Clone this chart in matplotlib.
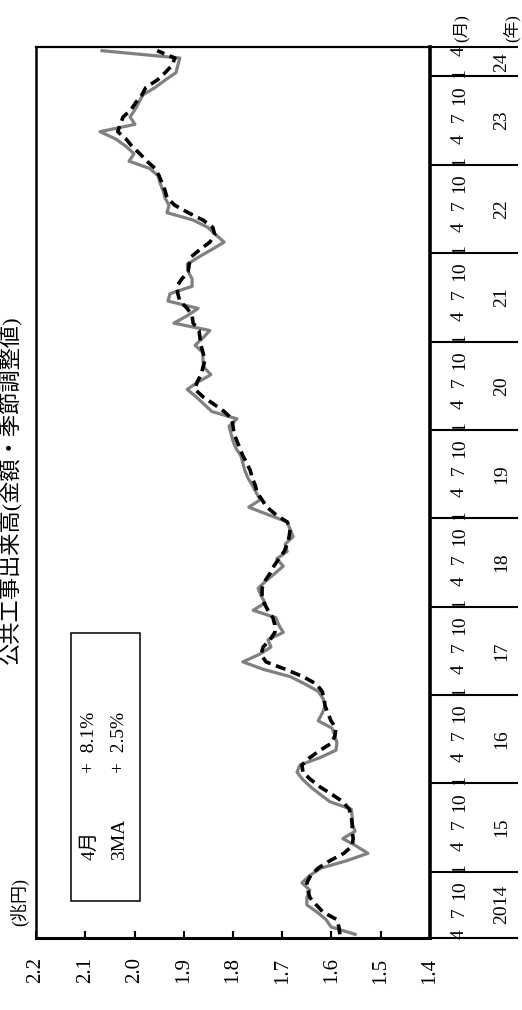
"""Public works output (value, seasonally adjusted), drawn rotated 90 degrees like the source page."""

import matplotlib

matplotlib.use("Agg")
import matplotlib.pyplot as plt
from matplotlib.patches import Rectangle

plt.rcParams["font.family"] = ["Liberation Serif", "Noto Sans CJK JP"]

# monthly series from 2014/4 to 2024/4 (trillion yen)
START_MONTH = 4
MONTHLY = [
    1.552, 1.601, 1.611, 1.629, 1.650, 1.650, 1.644, 1.660, 1.644, 1.621,
    1.569, 1.526, 1.550, 1.577, 1.552, 1.558, 1.558, 1.560, 1.603, 1.623,
    1.642, 1.658, 1.670, 1.664, 1.623, 1.591, 1.589, 1.593, 1.599, 1.627,
    1.619, 1.613, 1.617, 1.627, 1.654, 1.684, 1.739, 1.780, 1.747, 1.723,
    1.729, 1.698, 1.707, 1.713, 1.759, 1.735, 1.743, 1.749, 1.733, 1.715,
    1.698, 1.711, 1.690, 1.694, 1.678, 1.684, 1.690, 1.729, 1.768, 1.745,
    1.753, 1.761, 1.770, 1.776, 1.780, 1.784, 1.794, 1.800, 1.804, 1.808,
    1.792, 1.843, 1.859, 1.875, 1.893, 1.871, 1.845, 1.859, 1.861, 1.861,
    1.877, 1.861, 1.847, 1.920, 1.893, 1.871, 1.932, 1.928, 1.883, 1.883,
    1.891, 1.893, 1.869, 1.843, 1.818, 1.835, 1.851, 1.881, 1.934, 1.930,
    1.938, 1.942, 1.948, 1.952, 1.969, 2.011, 2.001, 2.017, 2.038, 2.070,
    1.999, 2.009, 1.999, 1.991, 1.983, 1.958, 1.938, 1.916, 1.912, 1.908,
    2.066,
]
MA3 = [
    1.583, 1.585, 1.589, 1.617, 1.631, 1.644, 1.648, 1.650, 1.642, 1.627,
    1.603, 1.575, 1.558, 1.556, 1.558, 1.558, 1.560, 1.564, 1.577, 1.599,
    1.623, 1.642, 1.658, 1.660, 1.644, 1.623, 1.599, 1.593, 1.591, 1.601,
    1.607, 1.613, 1.615, 1.619, 1.631, 1.658, 1.694, 1.733, 1.743, 1.739,
    1.725, 1.715, 1.715, 1.719, 1.729, 1.737, 1.741, 1.741, 1.735, 1.725,
    1.717, 1.707, 1.696, 1.690, 1.686, 1.684, 1.690, 1.713, 1.731, 1.741,
    1.751, 1.755, 1.761, 1.765, 1.772, 1.780, 1.786, 1.792, 1.798, 1.800,
    1.802, 1.818, 1.839, 1.861, 1.877, 1.873, 1.865, 1.861, 1.857, 1.861,
    1.865, 1.867, 1.869, 1.881, 1.883, 1.893, 1.908, 1.912, 1.914, 1.904,
    1.891, 1.889, 1.885, 1.867, 1.847, 1.837, 1.841, 1.861, 1.891, 1.918,
    1.934, 1.938, 1.944, 1.950, 1.958, 1.975, 1.989, 2.005, 2.017, 2.034,
    2.029, 2.023, 2.007, 1.997, 1.985, 1.977, 1.954, 1.938, 1.924, 1.918,
    1.954,
]
VAL_TICKS = [2.2, 2.1, 2.0, 1.9, 1.8, 1.7, 1.6, 1.5, 1.4]
VAL_LABELS = ["2.2", "2.1", "2.0", "1.9", "1.8", "1.7", "1.6", "1.5", "1.4"]
YEAR_LABELS = ["2014", "15", "16", "17", "18", "19", "20", "21", "22", "23", "24"]
LEGEND_ROWS = [("4月", "+  8.1%"), ("3MA", "+  2.5%")]
TITLE = "公共工事出来高(金額・季節調整値)"

n = len(MONTHLY)
idx = list(range(n))
months = [(START_MONTH - 1 + i) % 12 + 1 for i in idx]

fig = plt.figure(figsize=(5.22, 10.10), dpi=100)
ax = fig.add_axes([36 / 522, 72 / 1010, 394 / 522, 891 / 1010])

ax.plot(MONTHLY, idx, color="#808080", lw=2.3, zorder=2)
ax.plot(MA3, idx, color="black", lw=2.6, dashes=(2.8, 1.6), zorder=3)
ax.set_xlim(2.2, 1.4)
ax.set_ylim(-0.5, n - 0.5)

for side, lw in [("left", 1.8), ("bottom", 2.2), ("right", 2.6), ("top", 1.6)]:
    ax.spines[side].set_linewidth(lw)

ax.set_xticks(VAL_TICKS)
ax.set_xticklabels(VAL_LABELS, rotation=90)
ax.tick_params(axis="x", direction="in", length=5, width=1.5, pad=14, labelsize=15)

# month labels (1, 4, 7, 10) on the right, year separators as long outward ticks
mpos = [i for i in idx if months[i] in (1, 4, 7, 10)]
ax.set_yticks(mpos)
ax.set_yticklabels([str(months[i]) for i in mpos], rotation=90, va="center")
ax.tick_params(axis="y", which="major", left=False, right=True, labelleft=False,
               labelright=True, length=0, pad=15, labelsize=14)
seps = [-0.5] + [i - 0.5 for i in idx if months[i] == 1] + [n - 0.5]
ax.set_yticks(seps, minor=True)
ax.tick_params(axis="y", which="minor", left=False, right=True, direction="out",
               length=63, width=1.5)

# year labels centred in each year block
for k, lab in enumerate(YEAR_LABELS):
    lo, hi = seps[k], seps[k + 1]
    ax.text(1.183, (lo + hi) / 2, lab, transform=ax.get_yaxis_transform(), rotation=90,
            ha="center", va="center", fontsize=14, clip_on=False)

# legend box with text only
ax.add_patch(Rectangle((0.0888, 0.0415), 0.175, 0.301, transform=ax.transAxes,
                       fill=False, edgecolor="black", lw=1.1, zorder=4))
for k, (name, val) in enumerate(LEGEND_ROWS):
    xk = 0.137 + k * 0.076
    ax.text(xk, 0.0875, name, transform=ax.transAxes, rotation=90, rotation_mode="anchor",
            ha="left", va="center", fontsize=14)
    ax.text(xk, 0.185, val, transform=ax.transAxes, rotation=90, rotation_mode="anchor",
            ha="left", va="center", fontsize=14)

fig.text(461 / 522, 1 - 28 / 1010, "(月)", rotation=90, ha="center", va="center", fontsize=12)
fig.text(512 / 522, 1 - 28 / 1010, "(年)", rotation=90, ha="center", va="center", fontsize=12)
fig.text(20 / 522, 1 - 902 / 1010, "(兆円)", rotation=90, ha="center", va="center", fontsize=13)
fig.text(10 / 522, 1 - 490 / 1010, TITLE, rotation=90, ha="center", va="center", fontsize=16)

fig.savefig("out.png", dpi=100)
